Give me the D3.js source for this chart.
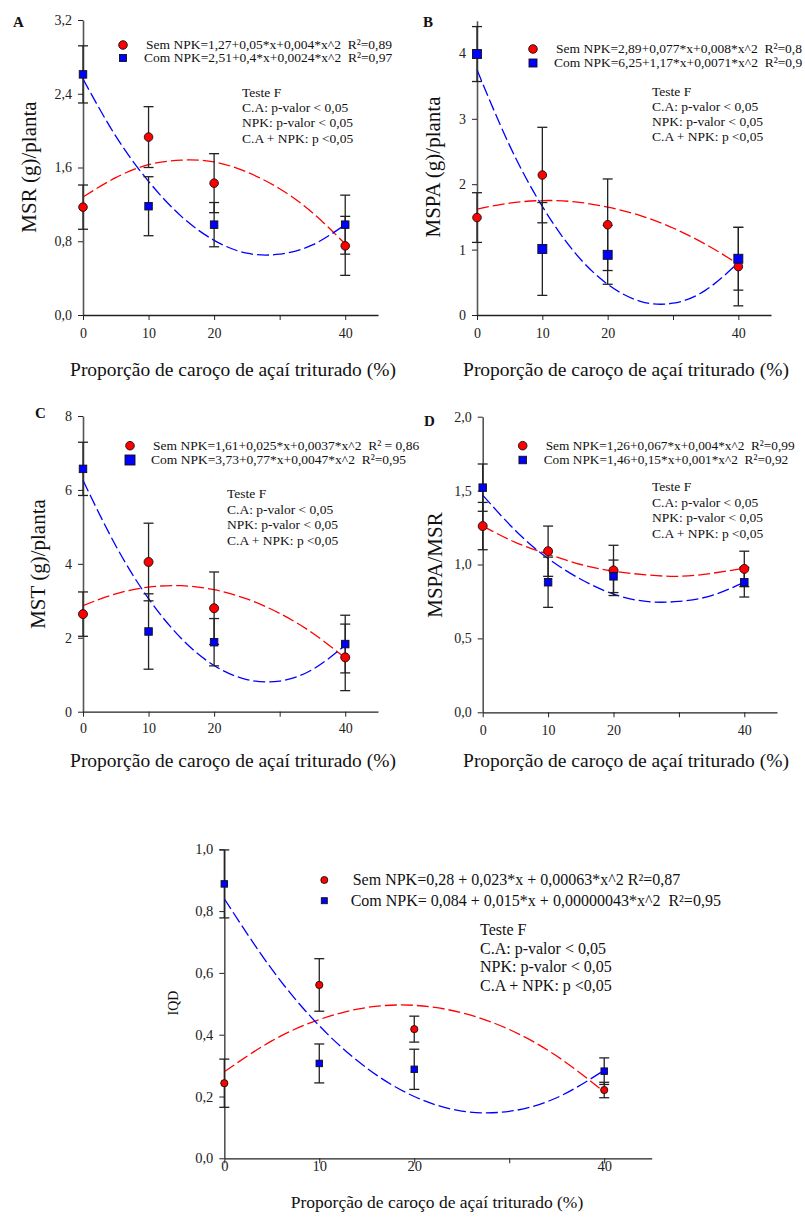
<!DOCTYPE html>
<html>
<head>
<meta charset="utf-8">
<script src="https://cdn.jsdelivr.net/npm/d3@7"></script>
<style>
  body { margin: 0; background: #fff; }
  svg { display: block; font-family: "Liberation Serif", "Times New Roman", serif; }
  text { white-space: pre; }
</style>
</head>
<body>
<svg id="chart" width="805" height="1222"></svg>
<script>
// niveis de caroco de acai (%)
const xLevels = [0, 10, 20, 40];
const xTickValues = [0, 10, 20, 30, 40];
const curveX = [0, 5, 10, 15, 20, 25, 30, 35, 40];

// A - MSR
const msrSem = [1.17, 1.93, 1.43, 0.75];
const msrSemErr = [0.24, 0.33, 0.32, 0.32];
const msrCom = [2.61, 1.18, 0.98, 0.98];
const msrComErr = [0.31, 0.32, 0.24, 0.32];
const msrSemFit = [1.28, 1.49, 1.63, 1.68, 1.66, 1.55, 1.37, 1.11, 0.77];
const msrComFit = [2.56, 1.94, 1.45, 1.07, 0.81, 0.67, 0.66, 0.76, 0.98];

// B - MSPA
const mspaSem = [1.49, 2.14, 1.38, 0.74];
const mspaSemErr = [0.38, 0.73, 0.70, 0.60];
const mspaCom = [3.99, 1.01, 0.92, 0.86];
const mspaComErr = [0.42, 0.71, 0.45, 0.48];
const mspaSemFit = [1.62, 1.71, 1.75, 1.73, 1.65, 1.52, 1.33, 1.08, 0.78];
const mspaComFit = [3.75, 2.59, 1.66, 0.95, 0.47, 0.21, 0.18, 0.38, 0.80];

// C - MST
const mstSem = [2.64, 4.05, 2.80, 1.47];
const mstSemErr = [0.60, 1.05, 0.98, 0.90];
const mstCom = [6.57, 2.17, 1.88, 1.83];
const mstComErr = [0.72, 1.02, 0.64, 0.78];
const mstSemFit = [2.87, 3.19, 3.37, 3.41, 3.30, 3.05, 2.66, 2.13, 1.45];
const mstComFit = [6.26, 4.49, 3.06, 1.98, 1.25, 0.87, 0.83, 1.14, 1.80];

// D - MSPA/MSR
const ratioSem = [1.26, 1.09, 0.96, 0.97];
const ratioSemErr = [0.16, 0.17, 0.17, 0.12];
const ratioCom = [1.52, 0.88, 0.92, 0.88];
const ratioComErr = [0.16, 0.17, 0.11, 0.10];
const ratioSemFit = [1.26, 1.15, 1.07, 1.00, 0.955, 0.93, 0.92, 0.94, 0.975];
const ratioComFit = [1.47, 1.23, 1.04, 0.90, 0.80, 0.75, 0.75, 0.79, 0.88];

// E - IQD
const iqdSem = [0.243, 0.561, 0.418, 0.221];
const iqdSemErr = [0.078, 0.085, 0.042, 0.025];
const iqdCom = [0.888, 0.307, 0.288, 0.282];
const iqdComErr = [0.11, 0.063, 0.065, 0.043];
const iqdSemFit = [0.28, 0.38, 0.449, 0.488, 0.495, 0.471, 0.417, 0.331, 0.215];
const iqdComFit = [0.84, 0.612, 0.429, 0.292, 0.20, 0.153, 0.152, 0.196, 0.285];

const xTitle = "Proporção de caroço de açaí triturado (%)";
const fTestLines = ["Teste F", "C.A: p-valor < 0,05", "NPK: p-valor < 0,05", "C.A + NPK: p <0,05"];

const fmt1 = d => d3.format(".1f")(d).replace(".", ",");
const fmt0 = d => d3.format("d")(d);

const svg = d3.select("#chart");

const panels = [
  {
    label: "A", labelX: 13, labelY: 27,
    left: 83, right: 378, top: 20, bottom: 315, yMax: 3.2,
    yTicks: [0, 0.8, 1.6, 2.4, 3.2], fmt: fmt1,
    sem: msrSem, semErr: msrSemErr, com: msrCom, comErr: msrComErr,
    semFit: msrSemFit, comFit: msrComFit,
    yTitle: "MSR (g)/planta", yTitleX: 36, yTitleY: 167,
    xTitleX: 233, xTitleY: 376, xTitleSize: 19.5,
    tickFont: 14, xTickPad: 8, r: 4.3, sq: 7.5,
    legX: 123, legY1: 45, legY2: 58, legTx: 146, legSize: 13.5, legR: 4.3, legSq: 7,
    eqSem: "Sem NPK=1,27+0,05*x+0,004*x^2  R²=0,89",
    eqCom: "Com NPK=2,51+0,4*x+0,0024*x^2  R²=0,97",
    fx: 242, fy: 96.5, fdy: 15.4, fSize: 13.5
  },
  {
    label: "B", labelX: 423, labelY: 27,
    left: 477, right: 771, top: 20.7, bottom: 315, yMax: 4.5,
    yTicks: [0, 1, 2, 3, 4], fmt: fmt0,
    sem: mspaSem, semErr: mspaSemErr, com: mspaCom, comErr: mspaComErr,
    semFit: mspaSemFit, comFit: mspaComFit,
    yTitle: "MSPA (g)/planta", yTitleX: 440, yTitleY: 167,
    xTitleX: 626, xTitleY: 376, xTitleSize: 19.5,
    tickFont: 14, xTickPad: 8, r: 4.3, sq: 9,
    legX: 533, legY1: 49, legY2: 63, legTx: 556, legSize: 13.5, legR: 4.3, legSq: 8,
    eqSem: "Sem NPK=2,89+0,077*x+0,008*x^2  R²=0,8",
    eqCom: "Com NPK=6,25+1,17*x+0,0071*x^2  R²=0,9",
    fx: 652, fy: 95.5, fdy: 15.2, fSize: 13.5
  },
  {
    label: "C", labelX: 35, labelY: 418,
    left: 83, right: 378, top: 416, bottom: 711.7, yMax: 8,
    yTicks: [0, 2, 4, 6, 8], fmt: fmt0,
    sem: mstSem, semErr: mstSemErr, com: mstCom, comErr: mstComErr,
    semFit: mstSemFit, comFit: mstComFit,
    yTitle: "MST (g)/planta", yTitleX: 45, yTitleY: 564,
    xTitleX: 233, xTitleY: 767, xTitleSize: 19.5,
    tickFont: 14, xTickPad: 6, r: 4.5, sq: 7.5,
    legX: 130, legY1: 445.7, legY2: 460, legTx: 153, legSize: 13.5, legR: 4.3, legSq: 10,
    eqSem: "Sem NPK=1,61+0,025*x+0,0037*x^2  R² = 0,86",
    eqCom: "Com NPK=3,73+0,77*x+0,0047*x^2  R²=0,95",
    fx: 227, fy: 498, fdy: 15.6, fSize: 13.5
  },
  {
    label: "D", labelX: 424, labelY: 426,
    left: 482.7, right: 777, top: 416.7, bottom: 712.3, yMax: 2,
    yTicks: [0, 0.5, 1, 1.5, 2], fmt: fmt1,
    sem: ratioSem, semErr: ratioSemErr, com: ratioCom, comErr: ratioComErr,
    semFit: ratioSemFit, comFit: ratioComFit,
    yTitle: "MSPA/MSR", yTitleX: 442, yTitleY: 565,
    xTitleX: 626, xTitleY: 767, xTitleSize: 19.5,
    tickFont: 14, xTickPad: 8, r: 4.5, sq: 7.5,
    legX: 522.7, legY1: 445.7, legY2: 460, legTx: 545.7, legSize: 13.3, legR: 4.3, legSq: 7.5,
    eqSem: "Sem NPK=1,26+0,067*x+0,004*x^2  R²=0,99",
    eqCom: "Com NPK=1,46+0,15*x+0,001*x^2  R²=0,92",
    fx: 652, fy: 491, fdy: 15.5, fSize: 13.5
  },
  {
    label: "", labelX: 0, labelY: 0,
    left: 224.3, right: 651.7, top: 849.3, bottom: 1158.3, yMax: 1,
    yTicks: [0, 0.2, 0.4, 0.6, 0.8, 1], fmt: fmt1,
    sem: iqdSem, semErr: iqdSemErr, com: iqdCom, comErr: iqdComErr,
    semFit: iqdSemFit, comFit: iqdComFit,
    yTitle: "IQD", yTitleX: 178, yTitleY: 1003, yTitleSize: 14,
    xTitleX: 437, xTitleY: 1208, xTitleSize: 17.5,
    tickFont: 14.5, xTickPad: -3, r: 3.6, sq: 6.5,
    legX: 324.3, legY1: 880, legY2: 900.7, legTx: 352.7, legSize: 16, legR: 3.5, legSq: 6,
    eqSem: "Sem NPK=0,28 + 0,023*x + 0,00063*x^2 R²=0,87",
    eqCom: "Com NPK= 0,084 + 0,015*x + 0,00000043*x^2  R²=0,95",
    fx: 480, fy: 935, fdy: 18.7, fSize: 16
  }
];

panels.forEach(drawPanel);

function drawPanel(p) {
  const x = d3.scaleLinear().domain([0, 45]).range([p.left, p.right]);
  const y = d3.scaleLinear().domain([0, p.yMax]).range([p.bottom, p.top]);
  const g = svg.append("g");

  // eixo y
  const yAxis = g.append("g")
    .attr("transform", `translate(${p.left},0)`)
    .call(d3.axisLeft(y).tickValues(p.yTicks).tickFormat(p.fmt).tickSize(5).tickSizeOuter(0).tickPadding(6));
  yAxis.select(".domain").attr("stroke", "#555").attr("stroke-width", 1.6);
  yAxis.selectAll(".tick line").attr("stroke", "#222");
  yAxis.selectAll("text").attr("font-family", null).attr("font-size", p.tickFont).attr("fill", "#222");
  yAxis.attr("font-family", null);

  // eixo x
  const xAxis = g.append("g")
    .attr("transform", `translate(0,${p.bottom})`)
    .call(d3.axisBottom(x).tickValues(xTickValues).tickFormat(d => d === 30 ? "" : d)
      .tickSize(5).tickSizeOuter(0).tickPadding(p.xTickPad));
  xAxis.select(".domain").attr("stroke", "#222").attr("stroke-width", 1.3);
  xAxis.selectAll(".tick line").attr("stroke", "#222");
  xAxis.selectAll("text").attr("font-size", p.tickFont).attr("fill", "#222");
  xAxis.attr("font-family", null);

  // curvas ajustadas
  const line = d3.line().x(d => x(d[0])).y(d => y(d[1])).curve(d3.curveNatural);
  g.append("path")
    .datum(d3.zip(curveX, p.semFit))
    .attr("d", line).attr("fill", "none")
    .attr("stroke", "#ff0000").attr("stroke-width", 1.3).attr("stroke-dasharray", "12,4");
  g.append("path")
    .datum(d3.zip(curveX, p.comFit))
    .attr("d", line).attr("fill", "none")
    .attr("stroke", "#0000ff").attr("stroke-width", 1.3).attr("stroke-dasharray", "12,4");

  // barras de erro
  const series = [
    { vals: p.sem, err: p.semErr },
    { vals: p.com, err: p.comErr }
  ];
  series.forEach(s => {
    const rows = d3.zip(xLevels, s.vals, s.err);
    const eb = g.append("g").attr("stroke", "#222").attr("stroke-width", 1.3);
    eb.selectAll(".bar").data(rows).enter().append("line")
      .attr("x1", d => x(d[0])).attr("x2", d => x(d[0]))
      .attr("y1", d => y(d[1] - d[2])).attr("y2", d => y(d[1] + d[2]));
    eb.selectAll(".capTop").data(rows).enter().append("line")
      .attr("x1", d => x(d[0]) - 5).attr("x2", d => x(d[0]) + 5)
      .attr("y1", d => y(d[1] + d[2])).attr("y2", d => y(d[1] + d[2]));
    eb.selectAll(".capBot").data(rows).enter().append("line")
      .attr("x1", d => x(d[0]) - 5).attr("x2", d => x(d[0]) + 5)
      .attr("y1", d => y(d[1] - d[2])).attr("y2", d => y(d[1] - d[2]));
  });

  // pontos
  g.selectAll(".sem").data(d3.zip(xLevels, p.sem)).enter().append("circle")
    .attr("cx", d => x(d[0])).attr("cy", d => y(d[1])).attr("r", p.r)
    .attr("fill", "#ff0000").attr("stroke", "#111").attr("stroke-width", 0.9);
  g.selectAll(".com").data(d3.zip(xLevels, p.com)).enter().append("rect")
    .attr("x", d => x(d[0]) - p.sq / 2).attr("y", d => y(d[1]) - p.sq / 2)
    .attr("width", p.sq).attr("height", p.sq)
    .attr("fill", "#0000ff").attr("stroke", "#111").attr("stroke-width", 0.9);

  // legenda
  g.append("circle").attr("cx", p.legX).attr("cy", p.legY1).attr("r", p.legR)
    .attr("fill", "#ff0000").attr("stroke", "#111").attr("stroke-width", 0.9);
  g.append("rect").attr("x", p.legX - p.legSq / 2).attr("y", p.legY2 - p.legSq / 2)
    .attr("width", p.legSq).attr("height", p.legSq)
    .attr("fill", "#0000ff").attr("stroke", "#111").attr("stroke-width", 0.9);
  g.append("text").attr("x", p.legTx).attr("y", p.legY1 + p.legSize * 0.33)
    .attr("font-size", p.legSize).attr("fill", "#111").text(p.eqSem);
  g.append("text").attr("x", p.legTx - 2).attr("y", p.legY2 + p.legSize * 0.33)
    .attr("font-size", p.legSize).attr("fill", "#111").text(p.eqCom);

  // teste F
  g.selectAll(".ftest").data(fTestLines).enter().append("text")
    .attr("x", p.fx).attr("y", (d, i) => p.fy + i * p.fdy)
    .attr("font-size", p.fSize).attr("fill", "#111").text(d => d);

  // titulos
  g.append("text")
    .attr("transform", `translate(${p.yTitleX},${p.yTitleY}) rotate(-90)`)
    .attr("text-anchor", "middle").attr("font-size", p.yTitleSize || 21).attr("fill", "#111")
    .text(p.yTitle);
  g.append("text")
    .attr("x", p.xTitleX).attr("y", p.xTitleY)
    .attr("text-anchor", "middle").attr("font-size", p.xTitleSize).attr("fill", "#111")
    .text(xTitle);

  if (p.label) {
    g.append("text").attr("x", p.labelX).attr("y", p.labelY)
      .attr("font-size", 15).attr("font-weight", "bold").attr("fill", "#111")
      .text(p.label);
  }
}
</script>
</body>
</html>
